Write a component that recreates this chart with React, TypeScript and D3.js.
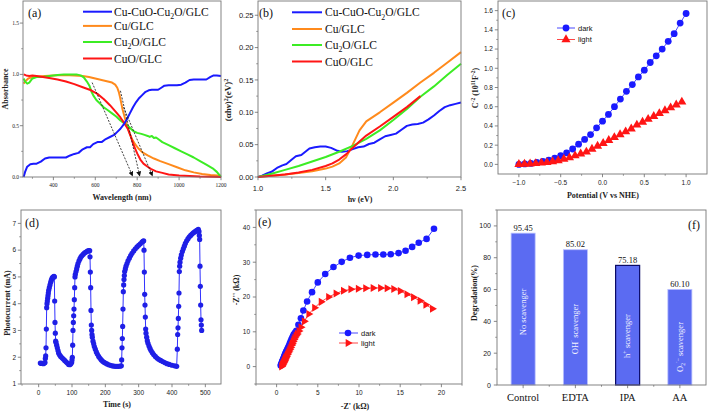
import React from 'react';
import * as d3 from 'd3';

const SERIF = '"Liberation Serif","Times New Roman",serif';
const SANS = '"Liberation Sans",Arial,sans-serif';

type Pt = [number, number];

// ===== (a) UV-vis absorbance: [wavelength nm, absorbance] =====
const absLegend = ['Cu-CuO-Cu2O/GLC', 'Cu/GLC', 'Cu2O/GLC', 'CuO/GLC'];
const absCuCuOCu2O: Pt[] = [[258,0.0],[265,0.05],[275,0.1],[290,0.125],[305,0.13],[320,0.13],[340,0.15],[360,0.18],[380,0.19],[400,0.19],[430,0.19],[460,0.19],[480,0.21],[500,0.225],[520,0.235],[540,0.27],[560,0.29],[575,0.29],[590,0.32],[610,0.34],[630,0.34],[650,0.37],[670,0.39],[690,0.41],[705,0.44],[720,0.47],[735,0.51],[750,0.56],[765,0.62],[780,0.68],[795,0.73],[810,0.77],[825,0.8],[840,0.83],[855,0.845],[870,0.85],[885,0.85],[900,0.85],[915,0.87],[930,0.89],[950,0.895],[970,0.895],[990,0.895],[1010,0.9],[1030,0.92],[1050,0.945],[1070,0.95],[1090,0.95],[1110,0.95],[1130,0.95],[1150,0.975],[1165,0.99],[1180,0.99],[1200,0.985]];
const absCu: Pt[] = [[258,0.91],[265,0.93],[280,0.96],[300,0.975],[330,0.98],[360,0.985],[400,0.99],[450,0.995],[500,0.99],[540,0.985],[570,0.975],[600,0.96],[630,0.945],[660,0.93],[680,0.92],[695,0.9],[705,0.87],[712,0.83],[718,0.78],[724,0.72],[730,0.66],[738,0.6],[746,0.54],[755,0.48],[765,0.42],[775,0.37],[790,0.32],[805,0.28],[825,0.24],[850,0.21],[880,0.18],[910,0.155],[950,0.125],[990,0.095],[1030,0.065],[1070,0.045],[1110,0.03],[1150,0.02],[1200,0.012]];
const absCu2O: Pt[] = [[258,0.96],[265,0.93],[275,0.91],[285,0.92],[300,0.96],[320,0.975],[350,0.975],[380,0.985],[420,0.995],[450,1.0],[480,1.0],[510,1.0],[530,0.99],[545,0.97],[560,0.93],[572,0.89],[582,0.83],[592,0.79],[605,0.75],[620,0.72],[640,0.68],[660,0.65],[680,0.62],[700,0.59],[720,0.55],[740,0.52],[760,0.49],[780,0.45],[800,0.43],[820,0.42],[835,0.41],[850,0.4],[860,0.39],[870,0.4],[880,0.38],[890,0.385],[900,0.37],[920,0.34],[950,0.31],[980,0.28],[1010,0.25],[1040,0.22],[1070,0.19],[1100,0.155],[1130,0.12],[1160,0.085],[1180,0.05],[1200,0.0]];
const absCuO: Pt[] = [[258,1.0],[270,0.99],[285,0.985],[300,0.99],[320,0.985],[350,0.975],[380,0.965],[420,0.95],[460,0.93],[500,0.905],[540,0.875],[580,0.845],[610,0.81],[640,0.76],[670,0.7],[700,0.63],[720,0.58],[740,0.52],[755,0.47],[770,0.39],[785,0.3],[800,0.23],[815,0.17],[830,0.13],[850,0.1],[865,0.08],[890,0.055],[920,0.04],[950,0.025],[1000,0.015],[1050,0.01],[1100,0.005],[1200,0.0]];
const absArrows: [number, number, number, number][] = [[585,0.92,778,0.0],[720,0.84,812,0.0],[735,0.68,873,0.0]];
const absXTicks = [400, 600, 800, 1000, 1200];
const absYTicks = [0, 0.5, 1.0, 1.5];

// ===== (b) Tauc plot: [hv eV, (ahv)^2] =====
const taucCuCuOCu2O: Pt[] = [[1.0,0],[1.03,0.002],[1.07,0.006],[1.1,0.008],[1.14,0.014],[1.18,0.018],[1.21,0.02],[1.25,0.027],[1.28,0.032],[1.32,0.034],[1.35,0.039],[1.38,0.044],[1.42,0.046],[1.46,0.047],[1.5,0.047],[1.54,0.045],[1.58,0.041],[1.62,0.039],[1.66,0.04],[1.7,0.043],[1.74,0.046],[1.78,0.047],[1.82,0.051],[1.86,0.053],[1.9,0.058],[1.94,0.063],[1.98,0.065],[2.02,0.067],[2.06,0.073],[2.1,0.079],[2.14,0.081],[2.18,0.082],[2.22,0.084],[2.26,0.089],[2.3,0.095],[2.34,0.102],[2.38,0.108],[2.42,0.111],[2.46,0.113],[2.5,0.115]];
const taucCu: Pt[] = [[1.0,0],[1.1,0.002],[1.2,0.004],[1.3,0.006],[1.4,0.009],[1.5,0.013],[1.55,0.016],[1.6,0.021],[1.65,0.03],[1.7,0.05],[1.75,0.072],[1.8,0.086],[1.9,0.1],[2.0,0.115],[2.1,0.13],[2.2,0.146],[2.3,0.161],[2.4,0.177],[2.5,0.193]];
const taucCu2O: Pt[] = [[1.0,0],[1.1,0.005],[1.2,0.011],[1.3,0.017],[1.4,0.024],[1.5,0.031],[1.6,0.039],[1.7,0.048],[1.8,0.059],[1.9,0.072],[2.0,0.088],[2.1,0.105],[2.2,0.124],[2.3,0.14],[2.4,0.158],[2.5,0.175]];
const taucCuO: Pt[] = [[1.0,0],[1.1,0.002],[1.2,0.004],[1.3,0.007],[1.4,0.011],[1.5,0.017],[1.55,0.021],[1.6,0.027],[1.65,0.035],[1.7,0.045],[1.75,0.055],[1.8,0.064],[1.9,0.078],[2.0,0.093],[2.1,0.108],[2.2,0.125]];
const taucXTicks = [1.0, 1.5, 2.0, 2.5];
const taucYTicks = [0, 0.05, 0.1, 0.15, 0.2, 0.25];

// ===== (c) Mott-Schottky: [V vs NHE, C^-2] =====
const msDark: Pt[] = [[-1.0,0.0],[-0.929,0.005],[-0.857,0.01],[-0.786,0.02],[-0.714,0.03],[-0.643,0.045],[-0.571,0.065],[-0.5,0.09],[-0.429,0.12],[-0.357,0.16],[-0.286,0.21],[-0.214,0.26],[-0.143,0.31],[-0.071,0.38],[0.0,0.45],[0.071,0.52],[0.143,0.6],[0.214,0.68],[0.286,0.76],[0.357,0.83],[0.429,0.91],[0.5,0.98],[0.571,1.06],[0.643,1.13],[0.714,1.2],[0.786,1.28],[0.857,1.36],[0.929,1.47],[1.0,1.57]];
const msLight: Pt[] = [[-1.0,0.0],[-0.933,0.003],[-0.866,0.006],[-0.798,0.01],[-0.731,0.015],[-0.664,0.02],[-0.597,0.03],[-0.53,0.04],[-0.462,0.055],[-0.395,0.07],[-0.328,0.09],[-0.261,0.11],[-0.193,0.13],[-0.126,0.16],[-0.059,0.19],[0.008,0.22],[0.075,0.25],[0.142,0.28],[0.21,0.31],[0.277,0.34],[0.344,0.37],[0.411,0.41],[0.479,0.44],[0.546,0.47],[0.613,0.5],[0.68,0.53],[0.747,0.56],[0.815,0.59],[0.882,0.62],[0.949,0.65]];
const msXTicks = [-1.0, -0.5, 0.0, 0.5, 1.0];
const msYTicks = [0, 0.2, 0.4, 0.6, 0.8, 1.0, 1.2, 1.4, 1.6];

// ===== (d) Photocurrent: [time s, mA] =====
const photocurrent: Pt[] = [[5,1.78],[8,1.77],[11,1.77],[14,1.76],[17,1.78],[19,1.8],[20,1.95],[21,2.05],[22,2.35],[23,3.05],[24,3.85],[25,4.0],[26,4.1],[27,4.2],[28,4.3],[29,4.4],[30,4.5],[32,4.6],[34,4.7],[36,4.8],[38,4.88],[40,4.95],[42,4.98],[44,5.0],[46,5.02],[47,5.0],[48,4.1],[49,3.3],[50,2.9],[51,2.6],[52,2.55],[54,2.45],[56,2.35],[58,2.25],[60,2.15],[63,2.08],[66,2.03],[70,1.98],[74,1.93],[78,1.88],[82,1.83],[86,1.78],[90,1.73],[93,1.72],[96,1.75],[99,1.8],[100,1.9],[101,2.0],[102,2.45],[103,3.0],[104,3.3],[105,3.55],[106,3.8],[107,4.15],[108,4.6],[109,5.0],[110,5.1],[112,5.2],[114,5.3],[116,5.4],[118,5.5],[121,5.6],[124,5.68],[127,5.75],[130,5.8],[134,5.85],[138,5.9],[142,5.93],[146,5.96],[150,5.98],[153,5.98],[154,5.75],[155,5.18],[156,4.6],[157,3.75],[158,3.2],[159,3.0],[160,2.85],[161,2.75],[163,2.6],[165,2.5],[167,2.4],[170,2.3],[173,2.2],[176,2.12],[180,2.03],[184,1.96],[188,1.9],[192,1.85],[196,1.81],[200,1.78],[205,1.75],[210,1.72],[215,1.7],[220,1.68],[225,1.67],[230,1.66],[235,1.66],[240,1.66],[245,1.67],[248,1.68],[249,1.9],[250,2.35],[251,2.7],[252,3.15],[253,3.8],[254,4.45],[255,4.7],[256,4.9],[257,5.05],[258,5.2],[260,5.3],[262,5.4],[265,5.5],[268,5.6],[272,5.7],[276,5.8],[280,5.88],[285,5.97],[290,6.05],[295,6.12],[300,6.18],[305,6.24],[310,6.3],[313,6.33],[315,6.35],[316,6.0],[317,5.18],[318,4.35],[319,3.95],[320,3.5],[321,3.05],[322,2.9],[324,2.75],[326,2.62],[328,2.52],[331,2.42],[334,2.33],[337,2.25],[341,2.17],[345,2.1],[350,2.03],[355,1.97],[360,1.92],[366,1.88],[372,1.84],[378,1.8],[385,1.76],[392,1.73],[400,1.7],[408,1.68],[414,1.66],[416,2.3],[417,2.85],[418,3.1],[419,3.45],[420,3.9],[421,4.4],[422,5.2],[423,5.4],[424,5.55],[426,5.7],[428,5.82],[431,5.95],[434,6.05],[437,6.15],[440,6.25],[444,6.35],[448,6.43],[452,6.5],[456,6.55],[460,6.6],[464,6.65],[468,6.68],[472,6.72],[476,6.75],[479,6.78],[481,6.7],[482,6.55],[483,6.4],[484,5.4],[485,4.65],[486,3.95],[487,3.4],[488,3.2],[489,3.0]];
const pcXTicks = [0, 100, 200, 300, 400, 500];
const pcYTicks = [1, 2, 3, 4, 5, 6, 7];

// ===== (e) Nyquist: [Z' kOhm, -Z'' kOhm] =====
const eisDark: Pt[] = [[0.5,0.3],[0.55,0.6],[0.6,0.9],[0.65,1.2],[0.7,1.5],[0.75,1.8],[0.8,2.1],[0.85,2.4],[0.9,2.7],[0.95,3.0],[1.0,3.3],[1.05,3.6],[1.1,3.9],[1.15,4.2],[1.2,4.5],[1.3,5.0],[1.4,5.5],[1.5,6.0],[1.6,6.6],[1.7,7.2],[1.8,7.8],[1.9,8.3],[2.0,8.8],[2.1,9.3],[2.25,9.8],[2.4,10.3],[2.65,12.0],[2.95,13.9],[3.25,16.1],[3.7,18.7],[4.3,21.4],[5.0,24.2],[5.9,26.6],[6.9,28.6],[7.9,30.1],[8.9,31.3],[9.95,31.9],[11.0,32.1],[12.0,32.2],[12.95,32.2],[13.85,32.3],[14.8,32.6],[15.65,33.3],[16.45,34.4],[17.25,35.6],[18.2,36.7],[19.1,39.6]];
const eisLight: Pt[] = [[0.6,0.0],[0.65,0.25],[0.7,0.5],[0.75,0.75],[0.8,1.0],[0.85,1.25],[0.9,1.5],[0.95,1.75],[1.0,2.0],[1.05,2.3],[1.1,2.6],[1.2,3.0],[1.3,3.5],[1.4,4.0],[1.5,4.5],[1.6,5.0],[1.7,5.5],[1.8,6.1],[1.9,6.6],[2.0,7.2],[2.1,7.8],[2.2,8.3],[2.35,8.9],[2.5,9.4],[2.7,10.2],[2.95,11.3],[3.35,13.0],[3.9,15.1],[4.6,16.9],[5.4,18.6],[6.3,20.0],[7.2,21.0],[8.1,21.8],[9.0,22.2],[9.9,22.4],[10.8,22.5],[11.7,22.6],[12.6,22.6],[13.4,22.5],[14.2,22.3],[15.0,21.7],[15.8,20.8],[16.6,19.9],[17.4,18.9],[18.1,17.8],[18.9,16.6]];
const eisXTicks = [0, 5, 10, 15, 20];
const eisYTicks = [0, 10, 20, 30, 40];

// ===== (f) Scavenger degradation =====
const scavCategories = ['Control', 'EDTA', 'IPA', 'AA'];
const scavValues = [95.45, 85.02, 75.18, 60.1];
const scavValueLabels = ['95.45', '85.02', '75.18', '60.10'];
const scavYTicks = [0, 20, 40, 60, 80, 100];

// ---------- styles / layout ----------
const C_BLUE = '#1a1aff';
const C_ORANGE = '#ff8a1c';
const C_GREEN = '#3cec24';
const C_RED = '#ff1515';
const lineColors = [C_BLUE, C_ORANGE, C_GREEN, C_RED];
const BAR = '#5b6bf2';

function Chem({ text, fs }: { text: string; fs: number }) {
  const parts = text.split(/(2)/);
  return (
    <>
      {parts.map((p, i) =>
        p === '2' ? (
          <tspan key={i} fontSize={fs * 0.68} dy={fs * 0.28}>2</tspan>
        ) : (
          <tspan key={i} dy={i > 0 ? -fs * 0.28 : 0}>{p}</tspan>
        )
      )}
    </>
  );
}

function Axes(props: any) {
  const { x, y, xTicks, xMinor = [], yTicks, yMinor = [], xFmt, yFmt, font, fs, xLabOff, yLabOff = 5, noXLabels } = props;
  const [l, r] = x.range();
  const [b, t] = y.range();
  const c = '#555';
  return (
    <g>
      {xMinor.map((v: number) => <line key={'xm' + v} x1={x(v)} x2={x(v)} y1={b} y2={b + 1.8} stroke={c} strokeWidth={0.6} />)}
      {xTicks.map((v: number) => <line key={'xt' + v} x1={x(v)} x2={x(v)} y1={b} y2={b + 3.2} stroke={c} strokeWidth={0.7} />)}
      {yMinor.map((v: number) => <line key={'ym' + v} x1={l} x2={l - 1.8} y1={y(v)} y2={y(v)} stroke={c} strokeWidth={0.6} />)}
      {yTicks.map((v: number) => <line key={'yt' + v} x1={l} x2={l - 3.2} y1={y(v)} y2={y(v)} stroke={c} strokeWidth={0.7} />)}
      {!noXLabels && xTicks.map((v: number) => (
        <text key={'xl' + v} x={x(v)} y={b + xLabOff} textAnchor="middle" fontFamily={font} fontSize={fs} fill="#222">{xFmt(v)}</text>
      ))}
      {yTicks.map((v: number) => (
        <text key={'yl' + v} x={l - yLabOff} y={y(v) + fs * 0.36} textAnchor="end" fontFamily={font} fontSize={fs} fill="#222">{yFmt(v)}</text>
      ))}
      <rect x={l} y={t} width={r - l} height={b - t} fill="none" stroke="#777" strokeWidth={0.9} />
    </g>
  );
}

function minors(a: number, b: number, step: number, majors: number[]) {
  return d3.range(a, b + step / 2, step).filter((v) => !majors.some((m) => Math.abs(m - v) < step / 10));
}

function TitleX({ x, y, children }: any) {
  return <text x={x} y={y} textAnchor="middle" fontFamily={SERIF} fontWeight="bold" fontSize={8} fill="#222">{children}</text>;
}
function TitleY({ x, y, children }: any) {
  return <text transform={`translate(${x},${y}) rotate(-90)`} textAnchor="middle" fontFamily={SERIF} fontWeight="bold" fontSize={8} fill="#222">{children}</text>;
}
function PanelLabel({ x, y, t }: any) {
  return <text x={x} y={y} fontFamily={SERIF} fontSize={12} fill="#111">{t}</text>;
}

export default function App() {
  // (a)
  const xA = d3.scaleLinear().domain([255, 1200]).range([23, 221]);
  const yA = d3.scaleLinear().domain([0, 1.715]).range([177, 1]);
  const lineA = d3.line<Pt>().x((d) => xA(d[0])).y((d) => yA(d[1]));
  const absSeries = [absCuCuOCu2O, absCu, absCu2O, absCuO];

  // (b)
  const xB = d3.scaleLinear().domain([1.0, 2.5]).range([258, 461]);
  const yB = d3.scaleLinear().domain([0, 0.272]).range([177, 1]);
  const lineB = d3.line<Pt>().x((d) => xB(d[0])).y((d) => yB(d[1]));
  const taucSeries = [taucCuCuOCu2O, taucCu, taucCu2O, taucCuO];

  // (c)
  const xC = d3.scaleLinear().domain([-1.25, 1.25]).range([498, 707]);
  const yC = d3.scaleLinear().domain([-0.1, 1.7]).range([174, 1]);
  const lineC = d3.line<Pt>().x((d) => xC(d[0])).y((d) => yC(d[1]));

  // (d)
  const xD = d3.scaleLinear().domain([-53, 547]).range([21, 221]);
  const yD = d3.scaleLinear().domain([1, 7.5]).range([384, 210]);
  const lineD = d3.line<Pt>().x((d) => xD(d[0])).y((d) => yD(d[1]));

  // (e)
  const xE = d3.scaleLinear().domain([-2.5, 22.5]).range([256, 462]);
  const yE = d3.scaleLinear().domain([-5, 45]).range([384, 210]);
  const lineE = d3.line<Pt>().x((d) => xE(d[0])).y((d) => yE(d[1]));

  // (f)
  const xF = d3.scaleBand<string>().domain(scavCategories).range([497, 706]).paddingInner(0.54).paddingOuter(0.27);
  const yF = d3.scaleLinear().domain([0, 110]).range([385, 210]);

  const tri = d3.symbol().type(d3.symbolTriangle).size(36)()!;
  const triSmall = d3.symbol().type(d3.symbolTriangle).size(28)()!;

  const f1 = d3.format('.1f');
  const f2 = d3.format('.2f');
  const f0 = d3.format('d');

  const legendA = [11.7, 25.9, 42, 58.5];
  const legendB = [12.3, 29, 45, 61.5];
  const scavTextY = [312, 329, 336, 347];

  return (
    <svg width={709} height={411} style={{ position: 'absolute', left: 0, top: 0, background: '#fff' }}>
      <defs>
        <marker id="arrowA" markerUnits="userSpaceOnUse" markerWidth={5} markerHeight={5} refX={4.5} refY={2.5} orient="auto">
          <path d="M0,0 L5,2.5 L0,5 z" fill="#111" />
        </marker>
      </defs>

      {/* ===== (a) ===== */}
      <g>
        {[1, 2, 3, 0].map((i) => (
          <path key={i} d={lineA(absSeries[i])!} fill="none" stroke={lineColors[i]} strokeWidth={2} strokeLinejoin="round" />
        ))}
        {absArrows.map((a, i) => (
          <line key={i} x1={xA(a[0])} y1={yA(a[1])} x2={xA(a[2])} y2={yA(a[3]) - 1} stroke="#111" strokeWidth={0.8} strokeDasharray="2,1.4" markerEnd="url(#arrowA)" />
        ))}
        <Axes x={xA} y={yA} xTicks={absXTicks} xMinor={minors(300, 1100, 100, absXTicks)} yTicks={absYTicks} yMinor={[0.25, 0.75, 1.25]}
          xFmt={f0} yFmt={f1} font={SERIF} fs={5.5} xLabOff={9.5} yLabOff={4} />
        {absLegend.map((s, i) => (
          <g key={s}>
            <line x1={83} x2={112} y1={legendA[i]} y2={legendA[i]} stroke={lineColors[i]} strokeWidth={2} />
            <text x={114} y={legendA[i] + 4} fontFamily={SERIF} fontSize={11.5} fill="#111"><Chem text={s} fs={11.5} /></text>
          </g>
        ))}
        <PanelLabel x={28} y={17} t="(a)" />
        <TitleX x={122} y={200}>Wavelength (nm)</TitleX>
        <TitleY x={8} y={89}>Absorbance</TitleY>
      </g>

      {/* ===== (b) ===== */}
      <g>
        {[0, 1, 2, 3].map((i) => (
          <path key={i} d={lineB(taucSeries[i])!} fill="none" stroke={lineColors[i]} strokeWidth={2} strokeLinejoin="round" />
        ))}
        <Axes x={xB} y={yB} xTicks={taucXTicks} xMinor={[1.25, 1.75, 2.25]} yTicks={[]} yMinor={[0.025, 0.075, 0.125, 0.175, 0.225]}
          xFmt={f1} yFmt={f2} font={SANS} fs={7.5} xLabOff={13.5} yLabOff={4} />
        {absLegend.map((s, i) => (
          <g key={s}>
            <line x1={292} x2={322} y1={legendB[i]} y2={legendB[i]} stroke={lineColors[i]} strokeWidth={2} />
            <text x={325} y={legendB[i] + 4} fontFamily={SERIF} fontSize={11.5} fill="#111"><Chem text={s} fs={11.5} /></text>
          </g>
        ))}
        <PanelLabel x={259} y={17} t="(b)" />
        <TitleX x={360} y={202}>hν (eV)</TitleX>
        <text transform="translate(231,100) rotate(-90)" textAnchor="middle" fontFamily={SERIF} fontWeight="bold" fontSize={9} fill="#222">
          (αhν)<tspan dy={-3.5} fontSize={6}>2</tspan><tspan dy={3.5}>(eV)</tspan><tspan dy={-3.5} fontSize={6}>2</tspan>
        </text>
      </g>

      {/* ===== (c) ===== */}
      <g>
        <path d={lineC(msDark)!} fill="none" stroke={C_BLUE} strokeWidth={0.8} />
        <path d={lineC(msLight)!} fill="none" stroke={C_RED} strokeWidth={0.8} />
        {msDark.map((d, i) => <circle key={'d' + i} cx={xC(d[0])} cy={yC(d[1])} r={3.4} fill={C_BLUE} />)}
        {msLight.map((d, i) => <path key={'l' + i} d={tri} transform={`translate(${xC(d[0])},${yC(d[1])})`} fill={C_RED} />)}
        <Axes x={xC} y={yC} xTicks={msXTicks} xMinor={[-0.75, -0.25, 0.25, 0.75]} yTicks={msYTicks} yMinor={d3.range(0.1, 1.7, 0.2)}
          xFmt={f1} yFmt={f1} font={SANS} fs={6.5} xLabOff={11} yLabOff={5} />
        <line x1={557} x2={575} y1={28} y2={28} stroke={C_BLUE} strokeWidth={0.8} />
        <circle cx={566} cy={28} r={3.4} fill={C_BLUE} />
        <text x={578} y={30.8} fontFamily={SANS} fontSize={7.5} fill="#111">dark</text>
        <line x1={557} x2={575} y1={39.5} y2={39.5} stroke={C_RED} strokeWidth={0.8} />
        <path d={tri} transform="translate(566,39.5)" fill={C_RED} />
        <text x={578} y={42.3} fontFamily={SANS} fontSize={7.5} fill="#111">light</text>
        <PanelLabel x={502} y={17} t="(c)" />
        <TitleX x={603} y={198}>Potential (V vs NHE)</TitleX>
        <text transform="translate(478,88) rotate(-90)" textAnchor="middle" fontFamily={SERIF} fontWeight="bold" fontSize={8} fill="#222">
          C<tspan dy={-3} fontSize={5.5}>-2</tspan><tspan dy={3}> (10</tspan><tspan dy={-3} fontSize={5.5}>11</tspan><tspan dy={3}>F</tspan><tspan dy={-3} fontSize={5.5}>-2</tspan><tspan dy={3}>)</tspan>
        </text>
      </g>

      {/* ===== (d) ===== */}
      <g>
        <path d={lineD(photocurrent)!} fill="none" stroke={C_BLUE} strokeWidth={0.9} />
        {photocurrent.map((d, i) => <circle key={i} cx={xD(d[0])} cy={yD(d[1])} r={2.6} fill="#1f1fe6" />)}
        <Axes x={xD} y={yD} xTicks={pcXTicks} xMinor={[-50, 50, 150, 250, 350, 450]} yTicks={pcYTicks} yMinor={[1.5, 2.5, 3.5, 4.5, 5.5, 6.5]}
          xFmt={f0} yFmt={f0} font={SANS} fs={6.5} xLabOff={10.5} yLabOff={5} />
        <PanelLabel x={25} y={227} t="(d)" />
        <TitleX x={117} y={407}>Time (s)</TitleX>
        <TitleY x={10} y={303}>Photocurrent (mA)</TitleY>
      </g>

      {/* ===== (e) ===== */}
      <g>
        <path d={lineE(eisDark)!} fill="none" stroke={C_BLUE} strokeWidth={0.8} />
        <path d={lineE(eisLight)!} fill="none" stroke={C_RED} strokeWidth={0.8} />
        {eisDark.map((d, i) => <circle key={'d' + i} cx={xE(d[0])} cy={yE(d[1])} r={3.3} fill={C_BLUE} />)}
        {eisLight.map((d, i) => <path key={'l' + i} d={triSmall} transform={`translate(${xE(d[0])},${yE(d[1])}) rotate(90)`} fill={C_RED} />)}
        <Axes x={xE} y={yE} xTicks={eisXTicks} xMinor={[-2.5, 2.5, 7.5, 12.5, 17.5, 22.5]} yTicks={eisYTicks} yMinor={[-5, 5, 15, 25, 35, 45]}
          xFmt={f0} yFmt={f0} font={SANS} fs={6.5} xLabOff={10.5} yLabOff={6} />
        <line x1={339} x2={358} y1={333} y2={333} stroke={C_BLUE} strokeWidth={0.8} />
        <circle cx={348} cy={333} r={3.3} fill={C_BLUE} />
        <text x={361} y={335.8} fontFamily={SANS} fontSize={7.5} fill="#111">dark</text>
        <line x1={339} x2={358} y1={343} y2={343} stroke={C_RED} strokeWidth={0.8} />
        <path d={triSmall} transform="translate(348,343) rotate(90)" fill={C_RED} />
        <text x={361} y={345.8} fontFamily={SANS} fontSize={7.5} fill="#111">light</text>
        <PanelLabel x={258} y={226} t="(e)" />
        <TitleX x={355} y={409}>-Z' (kΩ)</TitleX>
        <TitleY x={239} y={290}>-Z'' (kΩ)</TitleY>
      </g>

      {/* ===== (f) ===== */}
      <g>
        {scavCategories.map((c, i) => (
          <rect key={c} x={xF(c)!} y={yF(scavValues[i])} width={xF.bandwidth()} height={yF(0) - yF(scavValues[i])}
            fill={BAR} stroke={i === 2 ? '#0a0a66' : '#b9c0ff'} strokeWidth={i === 2 ? 1.2 : 0.8} />
        ))}
        {scavCategories.map((c, i) => (
          <text key={'v' + c} x={xF(c)! + xF.bandwidth() / 2} y={yF(scavValues[i]) - 2.5} textAnchor="middle" fontFamily={SERIF} fontSize={8.5} fill="#111">{scavValueLabels[i]}</text>
        ))}
        {scavCategories.map((c, i) => {
          const cx = xF(c)! + xF.bandwidth() / 2 + 2.8;
          const cy = scavTextY[i];
          const common = { textAnchor: 'middle' as const, fontFamily: SERIF, fontSize: 8.5, fill: '#f4f4ff' };
          return (
            <text key={'s' + c} transform={`translate(${cx},${cy}) rotate(-90)`} {...common}>
              {i === 0 && <>No scavenger</>}
              {i === 1 && <>OH<tspan dy={-3} fontSize={6}>˙</tspan><tspan dy={3}> scavenger</tspan></>}
              {i === 2 && <>h<tspan dy={-3.5} fontSize={6}>+</tspan><tspan dy={3.5}> scavenger</tspan></>}
              {i === 3 && <>O<tspan dy={2} fontSize={5.5}>2</tspan><tspan dy={-5} fontSize={5.5}>˙−</tspan><tspan dy={3}> scavenger</tspan></>}
            </text>
          );
        })}
        <Axes x={d3.scaleLinear().domain([0, 1]).range([497, 706])} y={yF} xTicks={[]} yTicks={scavYTicks} yMinor={[10, 30, 50, 70, 90, 110]}
          xFmt={f0} yFmt={f0} font={SANS} fs={7} xLabOff={10} yLabOff={6} noXLabels />
        {scavCategories.map((c) => (
          <line key={'t' + c} x1={xF(c)! + xF.bandwidth() / 2} x2={xF(c)! + xF.bandwidth() / 2} y1={385} y2={388.2} stroke="#555" strokeWidth={0.7} />
        ))}
        {scavCategories.slice(1).map((c) => (
          <line key={'m' + c} x1={xF(c)! - xF.step() * xF.paddingInner() / 2} x2={xF(c)! - xF.step() * xF.paddingInner() / 2} y1={385} y2={386.8} stroke="#555" strokeWidth={0.6} />
        ))}
        {scavCategories.map((c) => (
          <text key={'c' + c} x={xF(c)! + xF.bandwidth() / 2} y={401} textAnchor="middle" fontFamily={SERIF} fontSize={10.5} fill="#111">{c}</text>
        ))}
        <PanelLabel x={688} y={229} t="(f)" />
        <TitleY x={477} y={293}>Degradation(%)</TitleY>
      </g>

      {/* (b) y-axis ticks and labels, drawn last */}
      <g>
        {taucYTicks.map((v) => (
          <g key={'bt' + v}>
            <line x1={258} x2={254.8} y1={yB(v)} y2={yB(v)} stroke="#555" strokeWidth={0.7} />
            <text x={253.5} y={yB(v) + 2.7} textAnchor="end" fontFamily={SANS} fontSize={7.5} fill="#1a1a1a">{f2(v)}</text>
          </g>
        ))}
      </g>
    </svg>
  );
}
